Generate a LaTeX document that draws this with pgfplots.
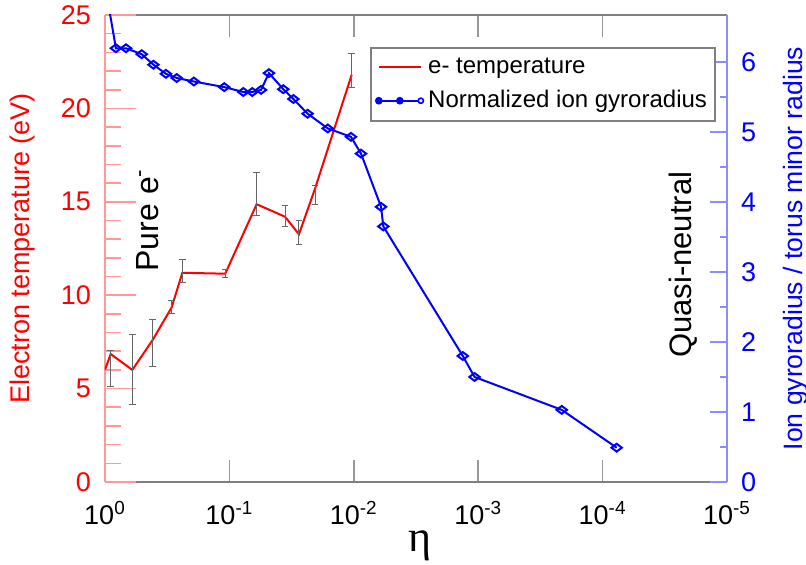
\documentclass[border=0pt]{standalone}
\usepackage{fontspec}
\setmainfont{Liberation Sans}
\newfontfamily\greekserif{Liberation Serif}
\usepackage{pgfplots}
\pgfplotsset{compat=1.18}

\pgfplotsset{
  base/.style={
    width=311pt, height=233.5pt, scale only axis,
    x dir=reverse, xmin=1e-5, xmax=1,
    tick align=inside,
    /pgf/number format/assume math mode=true,
  },
}

\begin{document}
\begin{tikzpicture}
\useasboundingbox (-52.5pt,-41.5pt) rectangle (350.5pt,241pt);

% x frame (bottom and top)
\begin{semilogxaxis}[base,
    ymin=0, ymax=1,
    axis y line=none, axis x line=box,
    x axis line style={black!50, line width=0.8pt},
    xtick={1,0.1,0.01,0.001,0.0001,0.00001},
    xticklabels={10\textsuperscript{0},10\textsuperscript{-1},10\textsuperscript{-2},10\textsuperscript{-3},10\textsuperscript{-4},10\textsuperscript{-5}},
    xticklabel style={font=\fontsize{13.5}{15}\selectfont, yshift=-6pt},
    major tick length=11pt, minor tick length=5pt,
    major tick style={black!40, line width=0.8pt},
    minor tick style={black!80, line width=0.5pt},
    xlabel={\greekserif η},
    xlabel style={at={(axis description cs:0.506,-0.137)}, anchor=center,
                  font=\fontsize{22}{24}\selectfont},
]
\end{semilogxaxis}

% left axis: electron temperature
\begin{semilogxaxis}[base,
    ymin=0, ymax=25,
    axis x line=none, axis y line*=left,
    y axis line style={red!40, line width=0.8pt},
    ytick={0,5,10,15,20,25}, minor y tick num=4,
    major tick length=15.5pt, minor tick length=7.8pt,
    major tick style={red!40, line width=0.8pt},
    minor tick style={red!40, line width=0.8pt},
    yticklabel style={red, font=\fontsize{13.5}{16}\selectfont, xshift=-3.5pt},
    ylabel={Electron temperature (eV)},
    ylabel style={red, at={(axis description cs:-0.132,0.5)}, anchor=center,
                  font=\fontsize{13.5}{15}\selectfont},
]
\addplot[red, line width=1pt,
    error bars/.cd, y dir=both, y explicit,
    error bar style={black!60, line width=0.5pt},
    error mark options={rotate=90, mark size=1.6pt, black!60, line width=0.5pt}]
coordinates {
    (1.0,    6.0)
    (0.90,   6.85)  += (0,0.2)  -= (0,1.75)
    (0.603,  6.0)   += (0,1.9)  -= (0,1.85)
    (0.414,  7.6)   += (0,1.1)  -= (0,1.4)
    (0.291,  9.35)  += (0,0.35) -= (0,0.35)
    (0.239,  11.2)  += (0,0.7)  -= (0,0.5)
    (0.108,  11.15) += (0,0.2)  -= (0,0.2)
    (0.0604, 14.87) += (0,1.7)  -= (0,0.6)
    (0.0357, 14.2)  += (0,0.6)  -= (0,0.5)
    (0.0276, 13.26) += (0,0.75) -= (0,0.55)
    (0.0205, 15.7)  += (0,0.15) -= (0,0.85)
    (0.0104, 21.8)  += (0,1.15) -= (0,0.7)
};
\end{semilogxaxis}

% right axis: normalized ion gyroradius
\begin{semilogxaxis}[base,
    ymin=0, ymax=6.67,
    axis x line=none, axis y line*=right,
    y axis line style={blue!45, line width=0.8pt},
    ytick={0,1,2,3,4,5,6}, minor y tick num=1,
    major tick length=8.5pt, minor tick length=3.5pt,
    major tick style={blue!45, line width=0.8pt},
    minor tick style={blue!45, line width=0.8pt},
    yticklabel style={blue, font=\fontsize{13.5}{15}\selectfont, xshift=3.5pt},
    ylabel={Ion gyroradius / torus minor radius},
    ylabel style={blue, at={(axis description cs:1.111,0.5)}, anchor=center,
                  font=\fontsize{13.3}{15}\selectfont},
    legend style={at={(axis description cs:0.982,0.931)}, anchor=north east,
                  draw=black!50, line width=0.8pt,
                  font=\fontsize{12}{14}\selectfont,
                  inner xsep=2pt, inner ysep=3pt, row sep=3pt},
    legend cell align=left,
]
\addlegendimage{legend image code/.code={\draw[red, line width=1pt] (0,0) -- (21pt,0);}}
\addlegendentry{e- temperature}
\addplot[blue, line width=1pt, mark=diamond, mark size=2.6pt,
    mark options={solid, rotate=90},
    legend image code/.code={
      \draw[blue, line width=1pt] (0,0) -- (21pt,0);
      \fill[blue] (0,0) circle (1.4pt) (10.5pt,0) circle (1.4pt);
      \draw[blue, line width=0.8pt, fill=white] (21pt,0) circle (1.3pt);}]
coordinates {
    (1.0,       7.1)
    (0.817,     6.195)
    (0.678,     6.195)
    (0.507,     6.11)
    (0.408,     5.96)
    (0.324,     5.83)
    (0.265,     5.77)
    (0.193,     5.72)
    (0.110,     5.64)
    (0.0773,    5.57)
    (0.0655,    5.57)
    (0.0557,    5.60)
    (0.0481,    5.84)
    (0.0369,    5.61)
    (0.0306,    5.47)
    (0.0235,    5.26)
    (0.0162,    5.05)
    (0.01054,   4.93)
    (0.00875,   4.69)
    (0.00604,   3.93)
    (0.00579,   3.65)
    (0.00133,   1.80)
    (0.00107,   1.50)
    (0.000213,  1.03)
    (0.0000771, 0.49)
};
\addlegendentry{Normalized ion gyroradius}

\node[rotate=90, font=\fontsize{16}{18}\selectfont]
    at (axis description cs:0.069,0.561) {Pure e\textsuperscript{-}};
\node[rotate=90, font=\fontsize{15.5}{18}\selectfont]
    at (axis description cs:0.930,0.465) {Quasi-neutral};
\end{semilogxaxis}
\end{tikzpicture}
\end{document}
